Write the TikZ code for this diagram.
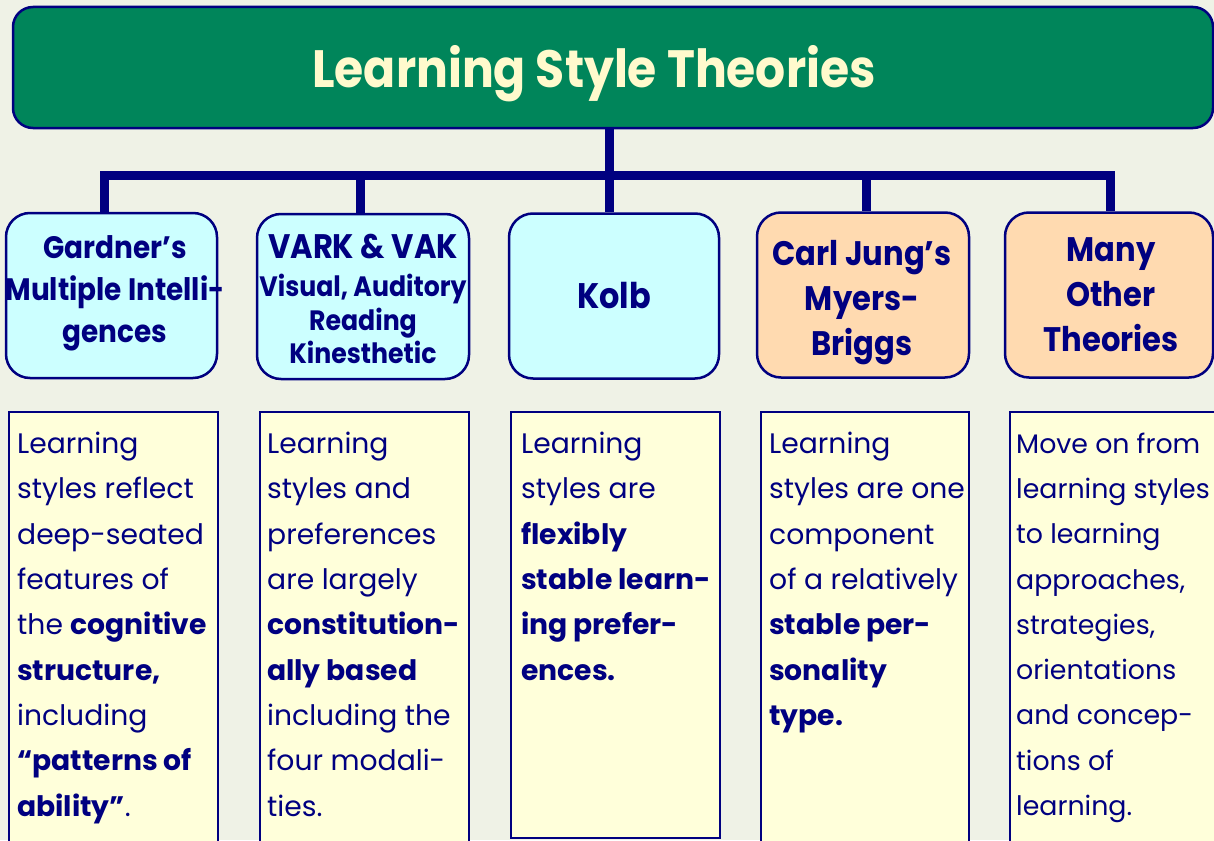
\documentclass[tikz,border=0pt]{standalone}
\usepackage{fontspec}
\setmainfont{Poppins}
\newfontfamily\hfont{Poppins}[FakeStretch=0.9]
\definecolor{bgc}{HTML}{EFF2E6}
\definecolor{greenc}{HTML}{00855A}
\definecolor{navy}{HTML}{000080}
\definecolor{cyanc}{HTML}{CCFFFF}
\definecolor{peach}{HTML}{FFDAB0}
\definecolor{paleyel}{HTML}{FFFFDA}
\definecolor{cream}{HTML}{FFFACD}
\tikzset{
  titlebox/.style={draw=navy, line width=2.5pt, fill=greenc, rounded corners=20pt, inner sep=0pt},
  headbox/.style={draw=navy, line width=2.5pt, rounded corners=24pt, inner sep=0pt, minimum height=165pt},
  cyanbox/.style={headbox, fill=cyanc},
  peachbox/.style={headbox, fill=peach},
  headtext/.style={text=navy, align=center, inner sep=0pt},
  textbox/.style={draw=navy, line width=2pt, fill=paleyel},
  bodytext/.style={text=navy, align=left, anchor=north west, inner sep=0pt, font=\fontsize{28.2}{45.3}\selectfont},
  conn/.style={draw=navy, line width=9pt, line cap=rect},
}
\begin{document}
\begin{tikzpicture}[x=1pt,y=-1pt]
\fill[bgc] (0,0) rectangle (1214,840);
\useasboundingbox (0,0) rectangle (1214,840);
% text columns (drawn first, extend past the bottom)
\path[textbox] (9,412) rectangle (218,850);
\path[textbox] (260,412) rectangle (469,850);
\path[textbox] (511,412) rectangle (720,838);
\path[textbox] (761,412) rectangle (969,850);
\path[textbox] (1010,412) rectangle (1225,850);
% title
\node[titlebox, minimum width=1200pt, minimum height=121pt] (title) at (613,67.5) {};
\node[anchor=base, inner sep=0pt, text=cream, font=\hfont\fontsize{52.5}{60}\selectfont\bfseries] (titletext) at (594,88) {Learning Style Theories};
% headers
\node[cyanbox, minimum width=211pt] (h1) at (111.5,295.5) {};
\node[cyanbox, minimum width=212pt] (h2) at (363,296.5) {};
\node[cyanbox, minimum width=210pt] (h3) at (614,296) {};
\node[peachbox, minimum width=212pt] (h4) at (863,295) {};
\node[peachbox, minimum width=208pt] (h5) at (1109,295) {};
\node[headtext, font=\hfont\fontsize{31}{42}\selectfont\bfseries] (h1t) at (115,293) {Gardner’s\\Multiple Intelli-\\gences};
\node[headtext, font=\hfont\fontsize{28}{33.7}\selectfont\bfseries] (h2t) at (363,299) {{\fontsize{34}{38}\selectfont VARK \& VAK}\\[4.3pt]Visual, Auditory\\Reading\\Kinesthetic};
\node[headtext, font=\hfont\fontsize{35.5}{42}\selectfont\bfseries] (h3t) at (614,296) {Kolb};
\node[headtext, font=\hfont\fontsize{34}{45}\selectfont\bfseries] (h4t) at (862,303) {Carl Jung’s\\Myers-\\Briggs};
\node[headtext, font=\hfont\fontsize{34}{45}\selectfont\bfseries] (h5t) at (1111,295) {Many\\Other\\Theories};
% connectors
\coordinate (t) at (609,128);
\coordinate (j) at (609,175);
\coordinate (bl) at (104.5,175);
\coordinate (br) at (1110.5,175);
\coordinate (d2) at (360,175);
\coordinate (d4) at (866,175);
\draw[conn, line cap=butt] (t) -- (j);
\draw[conn] (bl) -- (br);
\draw[conn, line cap=butt] (bl) -- (bl |- h1.north);
\draw[conn, line cap=butt] (d2) -- (d2 |- h2.north);
\draw[conn, line cap=butt] (j) -- (j |- h3.north);
\draw[conn, line cap=butt] (d4) -- (d4 |- h4.north);
\draw[conn, line cap=butt] (br) -- (br |- h5.north);
% body texts
\node[bodytext] (b1) at (17,432) {Learning\\styles reflect\\deep-seated\\features of\\the \textbf{cognitive}\\\textbf{structure,}\\including\\\textbf{“patterns of}\\\textbf{ability”}.};
\node[bodytext] (b2) at (267,432) {Learning\\styles and\\preferences\\are largely\\\textbf{constitution-}\\\textbf{ally based}\\including the\\four modali-\\ties.};
\node[bodytext] (b3) at (521,432) {Learning\\styles are\\\textbf{flexibly}\\\textbf{stable learn-}\\\textbf{ing prefer-}\\\textbf{ences.}};
\node[bodytext] (b4) at (769,432) {Learning\\styles are one\\component\\of a relatively\\\textbf{stable per-}\\\textbf{sonality}\\\textbf{type.}};
\node[bodytext, font=\fontsize{26.8}{45.3}\selectfont] (b5) at (1016,432.5) {Move on from\\learning styles\\to learning\\approaches,\\strategies,\\orientations\\and concep-\\tions of\\learning.};
\end{tikzpicture}
\end{document}
